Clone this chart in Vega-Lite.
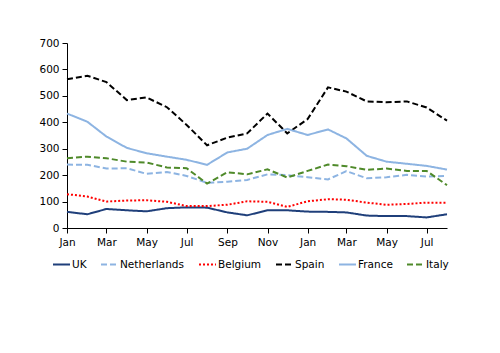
{
  "$schema": "https://vega.github.io/schema/vega-lite/v6.json",
  "width": 380,
  "height": 185,
  "padding": {"left": 38, "top": 38, "right": 5, "bottom": 5},
  "background": "white",
  "config": {
    "view": {"stroke": null},
    "font": "DejaVu Sans",
    "axis": {"labelFont": "DejaVu Sans", "labelFontSize": 10.5, "labelColor": "#000000", "domainColor": "#000000", "tickColor": "#000000", "grid": false, "title": null}
  },
  "data": {
    "values": [
      {"date": "2012-01-01", "country": "UK", "value": 61},
      {"date": "2012-02-01", "country": "UK", "value": 52},
      {"date": "2012-03-01", "country": "UK", "value": 72},
      {"date": "2012-04-01", "country": "UK", "value": 67},
      {"date": "2012-05-01", "country": "UK", "value": 63},
      {"date": "2012-06-01", "country": "UK", "value": 75},
      {"date": "2012-07-01", "country": "UK", "value": 78},
      {"date": "2012-08-01", "country": "UK", "value": 77},
      {"date": "2012-09-01", "country": "UK", "value": 59},
      {"date": "2012-10-01", "country": "UK", "value": 48},
      {"date": "2012-11-01", "country": "UK", "value": 67},
      {"date": "2012-12-01", "country": "UK", "value": 67},
      {"date": "2013-01-01", "country": "UK", "value": 62},
      {"date": "2013-02-01", "country": "UK", "value": 61},
      {"date": "2013-03-01", "country": "UK", "value": 59},
      {"date": "2013-04-01", "country": "UK", "value": 47},
      {"date": "2013-05-01", "country": "UK", "value": 45},
      {"date": "2013-06-01", "country": "UK", "value": 45},
      {"date": "2013-07-01", "country": "UK", "value": 40},
      {"date": "2013-08-01", "country": "UK", "value": 52},

      {"date": "2012-01-01", "country": "Netherlands", "value": 240},
      {"date": "2012-02-01", "country": "Netherlands", "value": 239},
      {"date": "2012-03-01", "country": "Netherlands", "value": 225},
      {"date": "2012-04-01", "country": "Netherlands", "value": 226},
      {"date": "2012-05-01", "country": "Netherlands", "value": 205},
      {"date": "2012-06-01", "country": "Netherlands", "value": 212},
      {"date": "2012-07-01", "country": "Netherlands", "value": 197},
      {"date": "2012-08-01", "country": "Netherlands", "value": 171},
      {"date": "2012-09-01", "country": "Netherlands", "value": 175},
      {"date": "2012-10-01", "country": "Netherlands", "value": 182},
      {"date": "2012-11-01", "country": "Netherlands", "value": 203},
      {"date": "2012-12-01", "country": "Netherlands", "value": 200},
      {"date": "2013-01-01", "country": "Netherlands", "value": 192},
      {"date": "2013-02-01", "country": "Netherlands", "value": 184},
      {"date": "2013-03-01", "country": "Netherlands", "value": 215},
      {"date": "2013-04-01", "country": "Netherlands", "value": 188},
      {"date": "2013-05-01", "country": "Netherlands", "value": 192},
      {"date": "2013-06-01", "country": "Netherlands", "value": 201},
      {"date": "2013-07-01", "country": "Netherlands", "value": 195},
      {"date": "2013-08-01", "country": "Netherlands", "value": 197},

      {"date": "2012-01-01", "country": "Belgium", "value": 128},
      {"date": "2012-02-01", "country": "Belgium", "value": 119},
      {"date": "2012-03-01", "country": "Belgium", "value": 100},
      {"date": "2012-04-01", "country": "Belgium", "value": 104},
      {"date": "2012-05-01", "country": "Belgium", "value": 105},
      {"date": "2012-06-01", "country": "Belgium", "value": 99},
      {"date": "2012-07-01", "country": "Belgium", "value": 83},
      {"date": "2012-08-01", "country": "Belgium", "value": 83},
      {"date": "2012-09-01", "country": "Belgium", "value": 88},
      {"date": "2012-10-01", "country": "Belgium", "value": 101},
      {"date": "2012-11-01", "country": "Belgium", "value": 99},
      {"date": "2012-12-01", "country": "Belgium", "value": 80},
      {"date": "2013-01-01", "country": "Belgium", "value": 101},
      {"date": "2013-02-01", "country": "Belgium", "value": 109},
      {"date": "2013-03-01", "country": "Belgium", "value": 107},
      {"date": "2013-04-01", "country": "Belgium", "value": 96},
      {"date": "2013-05-01", "country": "Belgium", "value": 88},
      {"date": "2013-06-01", "country": "Belgium", "value": 91},
      {"date": "2013-07-01", "country": "Belgium", "value": 96},
      {"date": "2013-08-01", "country": "Belgium", "value": 96},

      {"date": "2012-01-01", "country": "Spain", "value": 563},
      {"date": "2012-02-01", "country": "Spain", "value": 576},
      {"date": "2012-03-01", "country": "Spain", "value": 552},
      {"date": "2012-04-01", "country": "Spain", "value": 484},
      {"date": "2012-05-01", "country": "Spain", "value": 494},
      {"date": "2012-06-01", "country": "Spain", "value": 457},
      {"date": "2012-07-01", "country": "Spain", "value": 390},
      {"date": "2012-08-01", "country": "Spain", "value": 313},
      {"date": "2012-09-01", "country": "Spain", "value": 342},
      {"date": "2012-10-01", "country": "Spain", "value": 358},
      {"date": "2012-11-01", "country": "Spain", "value": 433},
      {"date": "2012-12-01", "country": "Spain", "value": 358},
      {"date": "2013-01-01", "country": "Spain", "value": 412},
      {"date": "2013-02-01", "country": "Spain", "value": 532},
      {"date": "2013-03-01", "country": "Spain", "value": 516},
      {"date": "2013-04-01", "country": "Spain", "value": 479},
      {"date": "2013-05-01", "country": "Spain", "value": 476},
      {"date": "2013-06-01", "country": "Spain", "value": 479},
      {"date": "2013-07-01", "country": "Spain", "value": 456},
      {"date": "2013-08-01", "country": "Spain", "value": 406},

      {"date": "2012-01-01", "country": "France", "value": 433},
      {"date": "2012-02-01", "country": "France", "value": 402},
      {"date": "2012-03-01", "country": "France", "value": 346},
      {"date": "2012-04-01", "country": "France", "value": 303},
      {"date": "2012-05-01", "country": "France", "value": 283},
      {"date": "2012-06-01", "country": "France", "value": 270},
      {"date": "2012-07-01", "country": "France", "value": 258},
      {"date": "2012-08-01", "country": "France", "value": 239},
      {"date": "2012-09-01", "country": "France", "value": 286},
      {"date": "2012-10-01", "country": "France", "value": 300},
      {"date": "2012-11-01", "country": "France", "value": 352},
      {"date": "2012-12-01", "country": "France", "value": 375},
      {"date": "2013-01-01", "country": "France", "value": 352},
      {"date": "2013-02-01", "country": "France", "value": 373},
      {"date": "2013-03-01", "country": "France", "value": 339},
      {"date": "2013-04-01", "country": "France", "value": 273},
      {"date": "2013-05-01", "country": "France", "value": 251},
      {"date": "2013-06-01", "country": "France", "value": 243},
      {"date": "2013-07-01", "country": "France", "value": 235},
      {"date": "2013-08-01", "country": "France", "value": 221},

      {"date": "2012-01-01", "country": "Italy", "value": 264},
      {"date": "2012-02-01", "country": "Italy", "value": 270},
      {"date": "2012-03-01", "country": "Italy", "value": 264},
      {"date": "2012-04-01", "country": "Italy", "value": 251},
      {"date": "2012-05-01", "country": "Italy", "value": 248},
      {"date": "2012-06-01", "country": "Italy", "value": 229},
      {"date": "2012-07-01", "country": "Italy", "value": 226},
      {"date": "2012-08-01", "country": "Italy", "value": 168},
      {"date": "2012-09-01", "country": "Italy", "value": 211},
      {"date": "2012-10-01", "country": "Italy", "value": 203},
      {"date": "2012-11-01", "country": "Italy", "value": 222},
      {"date": "2012-12-01", "country": "Italy", "value": 191},
      {"date": "2013-01-01", "country": "Italy", "value": 216},
      {"date": "2013-02-01", "country": "Italy", "value": 240},
      {"date": "2013-03-01", "country": "Italy", "value": 234},
      {"date": "2013-04-01", "country": "Italy", "value": 220},
      {"date": "2013-05-01", "country": "Italy", "value": 225},
      {"date": "2013-06-01", "country": "Italy", "value": 216},
      {"date": "2013-07-01", "country": "Italy", "value": 216},
      {"date": "2013-08-01", "country": "Italy", "value": 162}
    ]
  },
  "mark": {"type": "line", "strokeWidth": 2},
  "encoding": {
    "x": {
      "field": "date",
      "type": "temporal",
      "scale": {"nice": false},
      "axis": {"format": "%b", "tickCount": {"interval": "month", "step": 2}, "labelPadding": 4, "tickSize": 5, "labelFlush": false, "labelOverlap": false}
    },
    "y": {
      "field": "value",
      "type": "quantitative",
      "scale": {"domain": [0, 700]},
      "axis": {"values": [0, 100, 200, 300, 400, 500, 600, 700], "tickSize": 5, "labelPadding": 3}
    },
    "color": {
      "field": "country",
      "type": "nominal",
      "scale": {
        "domain": ["UK", "Netherlands", "Belgium", "Spain", "France", "Italy"],
        "range": ["#1F3F7A", "#8DB4E2", "#FF0000", "#000000", "#8DB4E2", "#4F8A2A"]
      },
      "legend": {
        "orient": "none",
        "legendX": -15,
        "legendY": 212,
        "direction": "horizontal",
        "title": null,
        "symbolType": "stroke",
        "symbolSize": 289,
        "symbolStrokeWidth": 2,
        "labelFontSize": 10.5,
        "labelFont": "DejaVu Sans",
        "labelColor": "#000000",
        "labelOffset": 1,
        "columnPadding": 10,
        "padding": 0
      }
    },
    "strokeDash": {
      "field": "country",
      "type": "nominal",
      "scale": {
        "domain": ["UK", "Netherlands", "Belgium", "Spain", "France", "Italy"],
        "range": [[1, 0], [6, 3], [2, 2], [6, 3], [1, 0], [6, 3]]
      },
      "legend": null
    }
  }
}
